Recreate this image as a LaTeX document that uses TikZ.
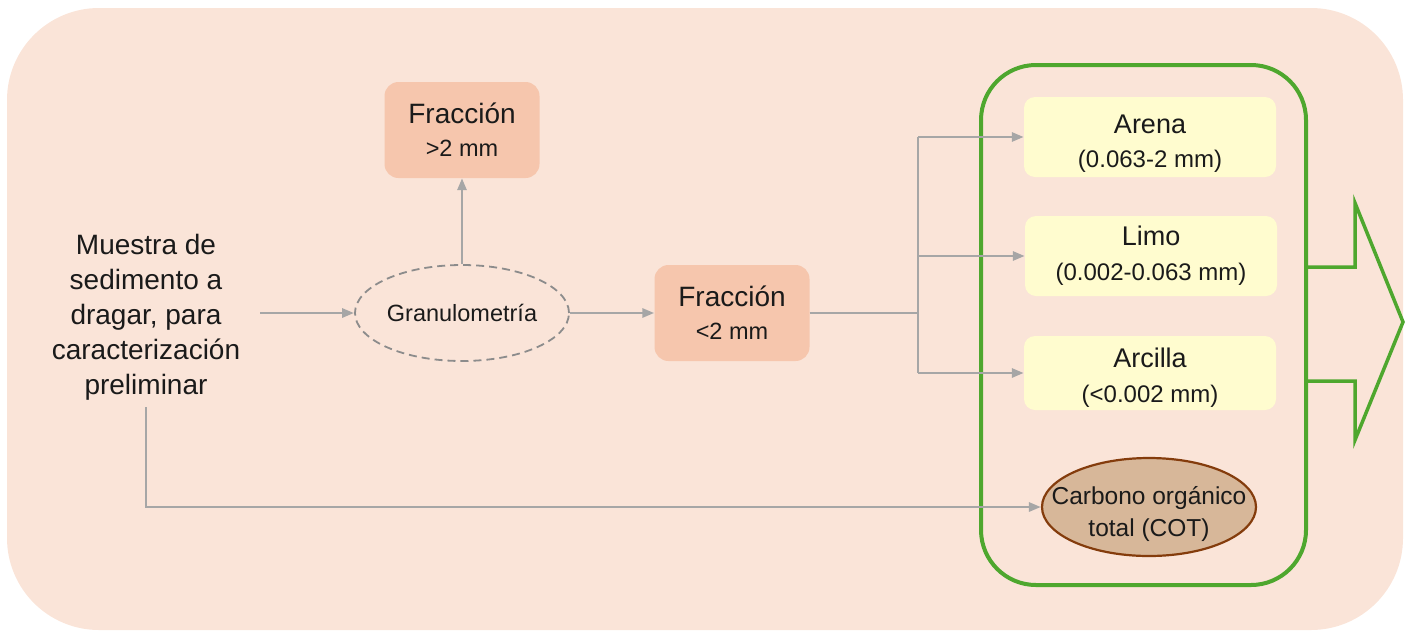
\documentclass[tikz,border=0pt]{standalone}
\usepackage{fontspec}
\setmainfont{Liberation Sans}
\usetikzlibrary{arrows.meta,shapes.geometric}
\definecolor{bgpeach}{HTML}{FAE4D8}
\definecolor{salmon}{HTML}{F6C6AD}
\definecolor{paleyellow}{HTML}{FFFCCF}
\definecolor{linegray}{HTML}{A6A6A6}
\definecolor{dashgray}{HTML}{8C8C8C}
\definecolor{leafgreen}{HTML}{4EA72E}
\definecolor{tan}{HTML}{D7B799}
\definecolor{rust}{HTML}{843C0C}
\definecolor{ink}{HTML}{1A1A1A}
\tikzset{
  flow/.style={draw=linegray, line width=2.8pt},
  flowarrow/.style={flow, -{Triangle[length=12pt,width=9pt]}},
  fracbox/.style={rectangle, rounded corners=14pt, fill=salmon, inner sep=0pt,
    minimum width=155pt, minimum height=96pt, align=center, text=ink},
  sizebox/.style={rectangle, rounded corners=11pt, fill=paleyellow, inner sep=0pt,
    minimum width=252pt, align=center, text=ink},
}
% strut that lowers a two-line label inside its box
\newcommand{\toplinestrut}[1]{\rule{0pt}{#1}}
\begin{document}
\begin{tikzpicture}[x=1pt,y=-1pt]
\useasboundingbox (0,0) rectangle (1410,630);
% background panel
\fill[bgpeach, rounded corners=92pt] (7,8) rectangle (1403,630);

% green frame grouping the analyses
\draw[leafgreen, line width=4pt, rounded corners=55pt] (981,65) rectangle (1306,585);
\draw[leafgreen, line width=3.5pt, line join=miter]
  (1306,267) -- (1355,267) -- (1355,203) -- (1403,322) -- (1355,440)
  -- (1355,381) -- (1306,381);

% nodes
\node[align=center, text=ink, font=\fontsize{28}{35}\selectfont,
  inner xsep=20pt, inner ysep=7pt] (muestra) at (146,317)
  {Muestra de\\sedimento a\\dragar, para\\caracterización\\preliminar};

\node[ellipse, draw=dashgray, dash pattern=on 8pt off 5pt, line width=1.8pt,
  minimum width=214pt, minimum height=96pt, inner xsep=-12pt, inner ysep=0pt,
  text=ink, font=\fontsize{23.5}{28}\selectfont] (gran) at (462,313) {Granulometría};

\node[fracbox, font=\fontsize{23.5}{33}\selectfont] (fracgt) at (462,130)
  {{\fontsize{28}{33}\selectfont Fracción}\\>2 mm};
\node[fracbox, font=\fontsize{23.5}{33}\selectfont] (fraclt) at (732,313)
  {{\fontsize{28}{33}\selectfont Fracción}\\<2 mm};

\node[sizebox, minimum height=80pt, font=\fontsize{24}{34}\selectfont] (arena) at (1150,137)
  {\toplinestrut{31pt}{\fontsize{27}{34}\selectfont Arena}\\(0.063-2 mm)};
\node[sizebox, minimum height=80pt, font=\fontsize{24}{35}\selectfont] (limo) at (1151,256)
  {{\fontsize{27}{35}\selectfont Limo}\\(0.002-0.063 mm)};
\node[sizebox, minimum height=74pt, font=\fontsize{24}{35}\selectfont] (arcilla) at (1150,373)
  {\toplinestrut{28pt}{\fontsize{27}{35}\selectfont Arcilla}\\(<0.002 mm)};

\node[ellipse, fill=tan, draw=rust, line width=2.2pt, minimum width=214pt,
  minimum height=98pt, inner xsep=-30pt, inner ysep=0pt, text=ink,
  font=\fontsize{24.5}{32}\selectfont] (cot) at (1149,507)
  {\raisebox{-13pt}[0pt][0pt]{\begin{tabular}{@{}c@{}}Carbono orgánico\\total (COT)\end{tabular}}};

% connectors
\coordinate (split) at (918,313);
\draw[flowarrow] (muestra.east |- gran.west) -- (gran.west);
\draw[flowarrow] (gran.north) -- (fracgt.south);
\draw[flowarrow] (gran.east) -- (fraclt.west);
\draw[flow] (fraclt.east) -- (split);
\draw[flow] (arena.west -| split) -- (arcilla.west -| split);
\draw[flowarrow] (split |- arena.west) -- (arena.west);
\draw[flowarrow] (split |- limo.west) -- (limo.west);
\draw[flowarrow] (split |- arcilla.west) -- (arcilla.west);
\draw[flowarrow] (muestra.south) |- (cot.west);
\end{tikzpicture}
\end{document}
